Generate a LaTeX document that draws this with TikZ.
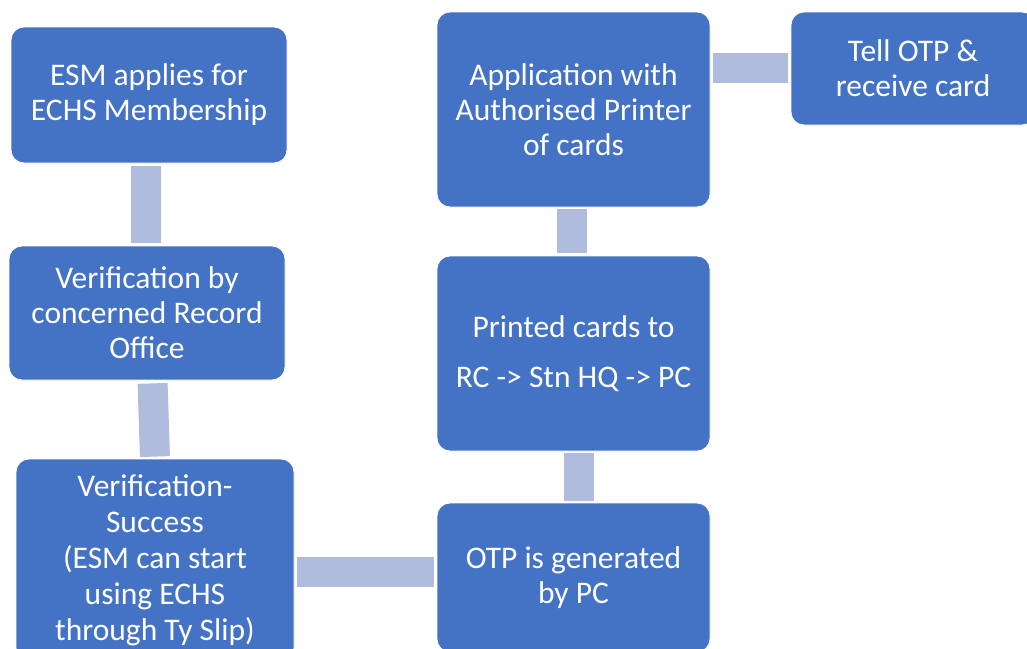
\documentclass[tikz,border=0pt]{standalone}
\usepackage{fontspec}
\setmainfont{Carlito}
\definecolor{boxblue}{HTML}{4472C4}
\definecolor{barblue}{HTML}{B0BCDE}
\definecolor{squig}{HTML}{C0504D}
\begin{document}
\begin{tikzpicture}[x=1pt,y=-1pt,
  stepbox/.style={rectangle, rounded corners=13pt, fill=boxblue, draw=white, line width=0.8pt,
    inner sep=0pt, align=center, text=white, font=\fontsize{31.5}{35}\selectfont},
  bar/.style={draw=barblue, line width=30pt, line cap=butt}]
\useasboundingbox (0,0) rectangle (1027,648);
\clip (0,0) rectangle (1027,648);
\node[stepbox, minimum width=276pt, minimum height=136pt] (b1) at (149,95) {ESM applies for\\ECHS Membership};
\node[stepbox, minimum width=276pt, minimum height=134pt] (b2) at (147,313) {Verification by\\concerned Record\\Office};
\node[stepbox, minimum width=278pt, minimum height=202pt, font=\fontsize{31.5}{36}\selectfont] (b3) at (155,560) {Verification-\\Success\\(ESM can start\\using ECHS\\through Ty Slip)};
\node[stepbox, minimum width=273pt, minimum height=149pt] (b4) at (573.5,577.5) {OTP is generated\\by PC};
\node[stepbox, minimum width=273pt, minimum height=195pt] (b5) at (573.5,353.5) {Printed cards to\\[15pt]RC -> Stn HQ -> PC};
\node[stepbox, minimum width=273pt, minimum height=195pt] (b6) at (573.5,109.5) {Application with\\Authorised Printer\\of cards};
\node[stepbox, minimum width=244pt, minimum height=113pt] (b7) at (913,68.5) {Tell OTP \&\\receive card};
% connectors
\draw[bar, shorten <=3pt, shorten >=3pt] ([xshift=-3.5pt]b1.south) -- ([xshift=-1.5pt]b2.north);
\draw[bar, shorten <=3pt, shorten >=2pt] ([xshift=5.5pt]b2.south) -- (b3.north);
\draw[bar, shorten <=3pt, shorten >=3pt] (b3.east |- 0,572) -- (b4.west |- 0,572);
\draw[bar, shorten <=2pt, shorten >=2pt] (b4.north -| 579,0) -- (b5.south -| 579,0);
\draw[bar, shorten <=3pt, shorten >=2pt] (b5.north -| 572,0) -- (b6.south -| 572,0);
\draw[bar, shorten <=3pt, shorten >=3pt] (b6.east |- 0,67.5) -- (b7.west |- 0,67.5);
% spell-check mark under "Stn"
\draw[squig, line width=0.8pt] (528,387) -- (572,387);
\end{tikzpicture}
\end{document}
